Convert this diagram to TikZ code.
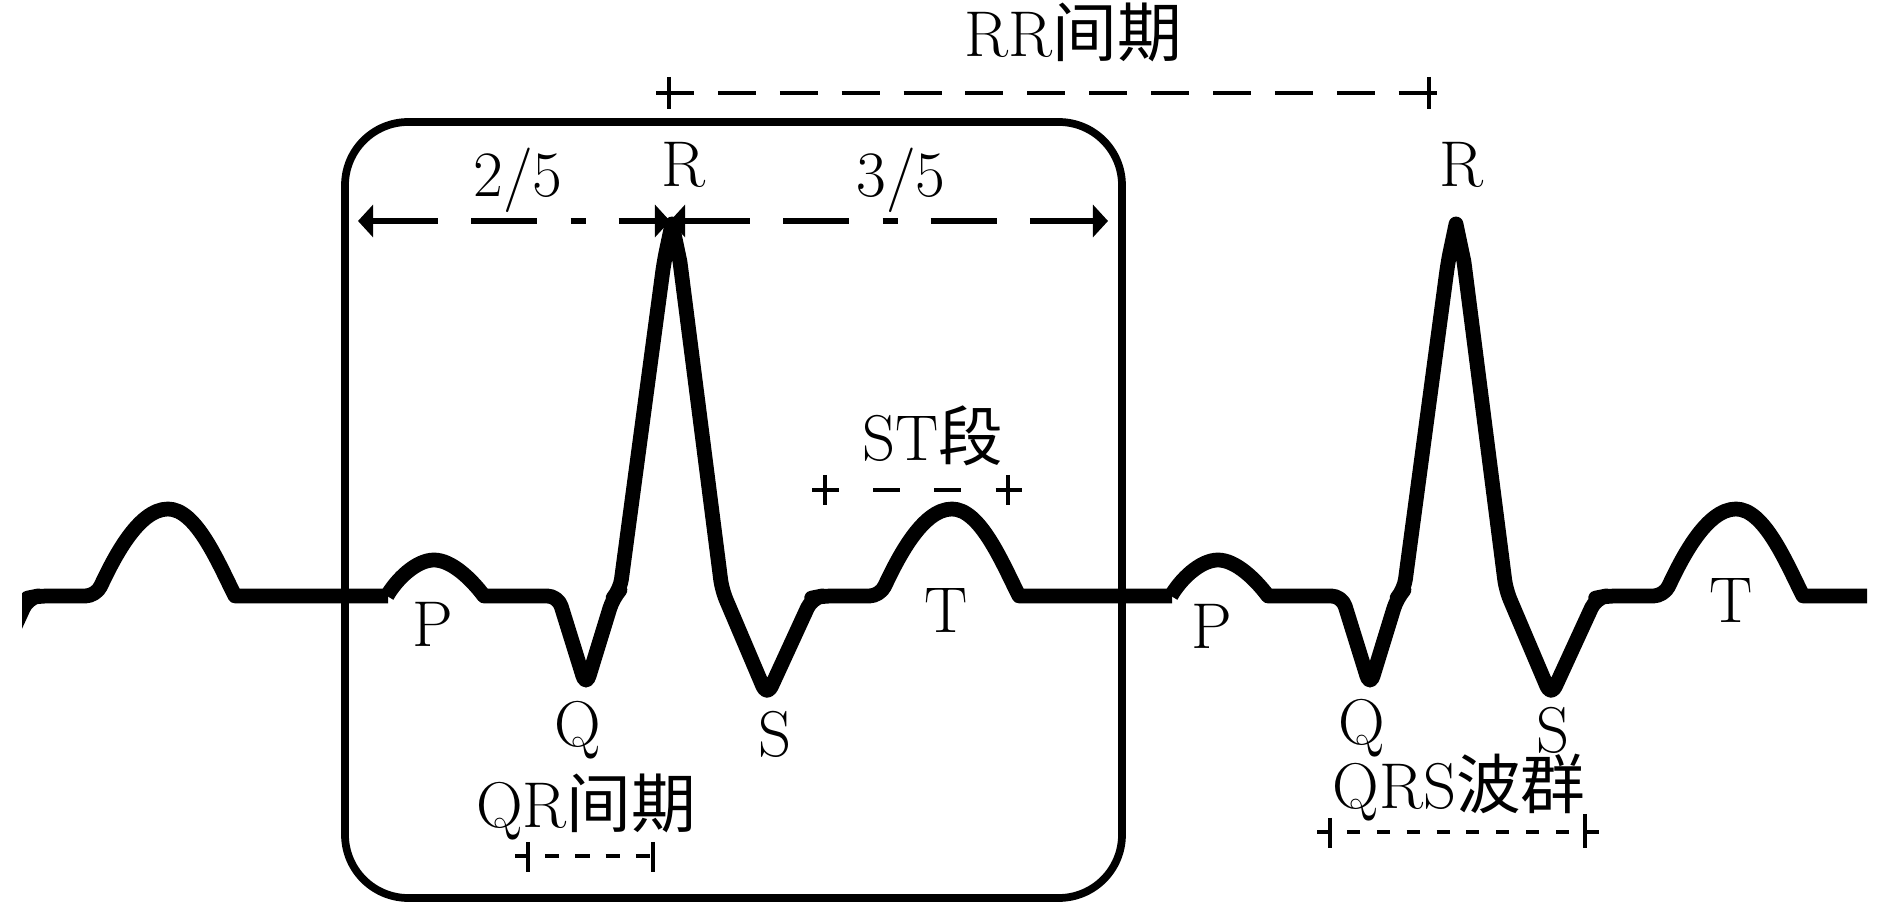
\documentclass[tikz,border=0pt]{standalone}
\usepackage{fontspec}
\newfontfamily\cjk{Noto Sans CJK SC}
\usetikzlibrary{arrows.meta,calc}
\tikzset{
    %Define standard arrow tip
    >={Triangle[length=4.3pt,width=9.1pt]},
    %Define style for the ECG trace
    ecg/.style={
      line width=4.2pt,
      line join=round},
    %Define style for the frame
    frame/.style={
      line width=2.2pt,
      rounded corners=18pt},
    % Define arrow style
    arr/.style={
      <->,
      line width=1.7pt,
      dash pattern=on 18.8pt off 9.4pt on 18.8pt off 9.4pt on 4.3pt off 9.4pt},
    % Define interval styles
    ivl/.style 2 args={
      line width=1.3pt,
      dash pattern=on #1 off #2},
    tickmark/.style={line width=1.4pt},
    % Define label style
    lbl/.style={
      anchor=base,
      inner sep=0pt,
      font=\fontsize{18.4}{22}\selectfont}
}

\begin{document}
\begin{tikzpicture}[x=0.01cm, y=-0.01cm]
    \useasboundingbox (0,0) rectangle (1890,907);
    % ECG trace, one beat per R peak
    \begin{scope}
      \clip (22,0) rectangle (1867,907);
      \foreach \r in {-112,672,1456}{
        \draw[ecg] ({\r-285},596)
          .. controls ({\r-276},580) and ({\r-256},560) .. ({\r-238},560)
          .. controls ({\r-220},560) and ({\r-200},580) .. ({\r-188},596)
          [rounded corners=3pt] -- ({\r-114},596) -- ({\r-86},686)
          -- ({\r-59},598) -- ({\r-52},590) -- ({\r-8},262)
          [sharp corners] -- ({\r},224) -- ({\r+8},262)
          [rounded corners=3pt] -- ({\r+50},590)
          -- ({\r+95},696) -- ({\r+140},598) -- ({\r+150},596)
          -- ({\r+208},596) [sharp corners]
          .. controls ({\r+225},560) and ({\r+250},509) .. ({\r+280},509)
          .. controls ({\r+308},509) and ({\r+330},562) .. ({\r+347},596)
          -- ({\r+500},596);
      }
    \end{scope}
    % frame round the first beat
    \draw[frame] (345,122) rectangle (1122,898);
    % split of the frame at R
    \coordinate (al) at (358,221);
    \coordinate (am) at (670,221);
    \coordinate (ar) at (1108,221);
    \draw[arr] (al) -- (am);
    \draw[arr] (am) -- (ar);
    \node[lbl] (frac1) at (518,197) {2/5};
    \node[lbl] (frac2) at (901,197) {3/5};
    % RR interval
    \coordinate (rra) at (669,93);
    \coordinate (rrb) at (1429,93);
    \draw[ivl={10.8pt}{6.8pt}] ($(rra)+(-13,0)$) -- ($(rrb)+(13,0)$);
    \draw[tickmark] (rra) ++(0,-16) -- ++(0,32);
    \draw[tickmark] (rrb) ++(0,-16) -- ++(0,32);
    \node[lbl] (rr) at (1073,57) {RR{\cjk 间期}};
    % ST segment
    \coordinate (sta) at (825,490);
    \coordinate (stb) at (1008,490);
    \draw[ivl={7.7pt}{9.7pt}] ($(sta)+(-13,0)$) -- ($(stb)+(14,0)$);
    \draw[tickmark] (sta) ++(0,-15) -- ++(0,30);
    \draw[tickmark] (stb) ++(0,-15) -- ++(0,30);
    \node[lbl] (st) at (933,461) {ST{\cjk 段}};
    % QR interval
    \coordinate (qra) at (528,856);
    \coordinate (qrb) at (653,856);
    \draw[ivl={4pt}{4.6pt}] ($(qra)+(-13,0)$) -- ($(qrb)+(2,0)$);
    \draw[tickmark] (qra) ++(0,-14) -- ++(0,30);
    \draw[tickmark] (qrb) ++(0,-14) -- ++(0,30);
    \node[lbl] (qr) at (586,828) {QR{\cjk 间期}};
    % QRS complex
    \coordinate (qrsa) at (1330,832);
    \coordinate (qrsb) at (1585,832);
    \draw[ivl={3.7pt}{4.8pt}] ($(qrsa)+(-13,0)$) -- ($(qrsb)+(15,0)$);
    \draw[tickmark] (qrsa) ++(0,-14) -- ++(0,30);
    \draw[tickmark] (qrsb) ++(0,-18) -- ++(0,34);
    \node[lbl] (qrs) at (1459,809) {QRS{\cjk 波群}};
    % wave labels
    \node[lbl] (r1) at (683,187) {R};
    \node[lbl] (r2) at (1461,187) {R};
    \node[lbl] (p1) at (433,647) {P};
    \node[lbl] (p2) at (1212,649) {P};
    \node[lbl] (q1) at (578,747) {Q};
    \node[lbl] (q2) at (1362,745) {Q};
    \node[lbl] (s1) at (775,757) {S};
    \node[lbl] (s2) at (1553,753) {S};
    \node[lbl] (t1) at (946,633) {T};
    \node[lbl] (t2) at (1731,623) {T};
\end{tikzpicture}
\end{document}
